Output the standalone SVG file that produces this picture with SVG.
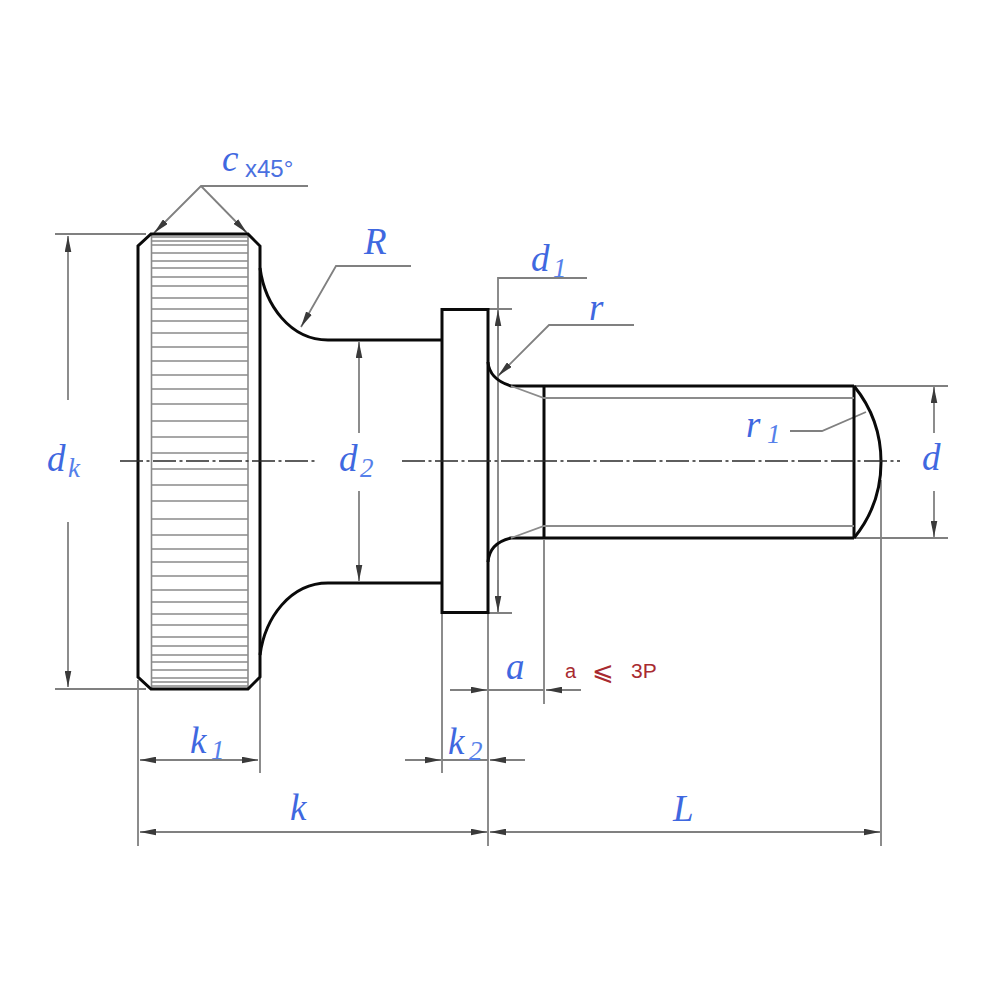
<svg xmlns="http://www.w3.org/2000/svg" width="1000" height="1000" viewBox="0 0 1000 1000">
<defs>
<marker id="arr" viewBox="0 0 16 7" refX="16" refY="3.500" markerUnits="userSpaceOnUse" markerWidth="16" markerHeight="7" orient="auto-start-reverse"><path d="M0 0.200L16 3.500L0 6.800z" fill="#3a3a3a"/></marker>
</defs>
<style>
.o{fill:none;stroke:#0a0a0a;stroke-width:3;stroke-linejoin:miter}
.t{fill:none;stroke:#8c8c8c;stroke-width:1.800}
.k{fill:none;stroke:#8a8a8a;stroke-width:1.600}
.c{fill:none;stroke:#2a2a2a;stroke-width:1.700;stroke-dasharray:23 3.500 3 3.500}
.d{fill:none;stroke:#808080;stroke-width:1.800}
.l{font-family:"Liberation Serif",serif;font-style:italic;font-size:37px;fill:#3f68e0}
.s{font-size:27px;fill:#5580ea}
.x{font-family:"Liberation Sans",sans-serif;font-size:24px;fill:#4a70e0}
.r{font-family:"Liberation Sans",sans-serif;font-size:21px;fill:#a82a30}
</style>
<g id="connectors">
<path class="d" d="M55 234H146M55 689H146"/>
<path class="d" d="M68 400V236" marker-end="url(#arr)"/>
<path class="d" d="M68 522V687" marker-end="url(#arr)"/>
<path class="d" d="M308 186H201L154 233" marker-end="url(#arr)"/>
<path class="d" d="M201 186L247 233" marker-end="url(#arr)"/>
<path class="d" d="M411 266H336L301 327" marker-end="url(#arr)"/>
<path class="d" d="M359 433V342" marker-end="url(#arr)"/>
<path class="d" d="M359 491V581" marker-end="url(#arr)"/>
<path class="d" d="M587 278H498V308" />
<path class="d" d="M498 311V612M488 309H512M488 613H512"/>
<path class="d" d="M498 340V310" marker-end="url(#arr)"/>
<path class="d" d="M498 580V612" marker-end="url(#arr)"/>
<path class="d" d="M634 325H549L498 376" marker-end="url(#arr)"/>
<path class="d" d="M854 386H948M854 538H948"/>
<path class="d" d="M934 433V387" marker-end="url(#arr)"/>
<path class="d" d="M934 491V537" marker-end="url(#arr)"/>
<path class="d" d="M790 431H822L866 412"/>
<path class="d" d="M138 680V846M260 677V773M442 613V773M488 613V846M544 540V704M881 480V846"/>
<path class="d" d="M140 760H258" marker-start="url(#arr)" marker-end="url(#arr)"/>
<path class="d" d="M405 760H441" marker-end="url(#arr)"/>
<path class="d" d="M525 760H490" marker-end="url(#arr)"/>
<path class="d" d="M442 760H488"/>
<path class="d" d="M450 690H487" marker-end="url(#arr)"/>
<path class="d" d="M581 690H546" marker-end="url(#arr)"/>
<path class="d" d="M488 690H544"/>
<path class="d" d="M140 832H487" marker-start="url(#arr)" marker-end="url(#arr)"/>
<path class="d" d="M490 832H880" marker-start="url(#arr)" marker-end="url(#arr)"/>
</g>
<g id="knurl">
<path class="k" d="M151.500 235V688M248 235V688"/>
<path class="k" d="M151 237H248M151 241H248M151 245H248M151 253H248M151 261H248M151 268H248M151 277H248M151 286H248M151 298H248M151 309H248M151 321H248M151 333H248M151 347H248M151 361H248M151 375H248M151 389H248M151 404H248M151 421H248M151 437H248M151 453H248M151 469H248M151 485H248M151 501H248M151 519H248M151 535H248M151 549H248M151 562H248M151 576H248M151 590H248M151 602H248M151 614H248M151 625H248M151 637H248M151 646H248M151 655H248M151 662H248M151 670H248M151 678H248M151 682H248M151 686H248"/>
</g>
<g id="screw-body">
<path class="o" d="M151 234H248L260 246V677L248 689H151L138 677V246Z"/>
<path class="o" d="M260 268C265 305 290 340 328 340H442M260 655C265 618 290 583 328 583H442"/>
<rect class="o" x="442" y="309.500" width="46" height="303"/>
<path class="o" d="M488 362C489 374 498 382 511 386H854M488 562C489 549 498 541 511 538H854"/>
<path class="o" d="M544 386V538M854 386V538"/>
<path class="o" d="M854 386A120.400 120.400 0 0 1 854 538"/>
<path class="t" d="M511 386L544 398H854M511 538L544 526H854"/>
</g>
<path id="centreline" class="c" d="M120 461H317M402 461H900"/>
<g id="labels">
<text class="l" x="222" y="171">c</text><text class="x" x="245" y="177">x45°</text>
<text class="l" x="364" y="254">R</text>
<text class="l" x="531" y="271">d</text><text class="l s" x="553" y="277">1</text>
<text class="l" x="589" y="320">r</text>
<text class="l" x="746" y="437">r</text><text class="l s" x="767" y="443">1</text>
<text class="l" x="47" y="471">d</text><text class="l s" x="68" y="477">k</text>
<text class="l" x="339" y="471">d</text><text class="l s" x="360" y="477">2</text>
<text class="l" x="922" y="470">d</text>
<text class="l" x="506" y="679">a</text>
<text class="r" x="565" y="678" style="font-size:20px">a</text><text x="592" y="680" style="font-family:'DejaVu Sans',sans-serif;font-size:26px;fill:#a82a30">⩽</text><text class="r" x="631" y="678">3P</text>
<text class="l" x="190" y="753">k</text><text class="l s" x="211" y="759">1</text>
<text class="l" x="448" y="754">k</text><text class="l s" x="469" y="760">2</text>
<text class="l" x="290" y="820">k</text>
<text class="l" x="673" y="821">L</text>
</g>
</svg>
